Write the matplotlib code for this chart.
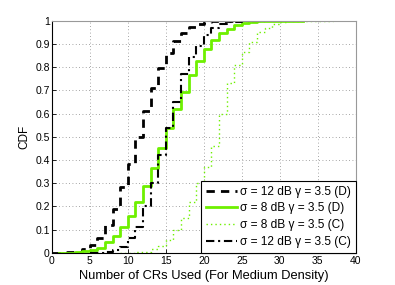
import matplotlib
matplotlib.use("Agg")
import matplotlib.pyplot as plt
import numpy as np

plt.rcParams['font.family'] = ['Liberation Sans', 'DejaVu Sans']

# CDF values on integer steps (value holds on [x, x+1))
x_d12 = [0, 1, 2, 3, 4, 5, 6, 7, 8, 9, 10, 11, 12, 13, 14, 15, 16, 17, 18, 19, 20, 21, 24]
cdf_d12 = [0, 0, 0.002, 0.005, 0.015, 0.035, 0.065, 0.12, 0.19, 0.285, 0.384, 0.5, 0.61,
           0.71, 0.795, 0.862, 0.914, 0.946, 0.972, 0.986, 0.995, 1.0, 1.0]

x_d8 = [1, 2, 3, 4, 5, 6, 7, 8, 9, 10, 11, 12, 13, 14, 15, 16, 17, 18, 19, 20, 21, 22,
        23, 24, 25, 26, 27, 28, 33]
cdf_d8 = [0, 0, 0.003, 0.006, 0.012, 0.022, 0.045, 0.074, 0.112, 0.158, 0.22, 0.287,
          0.364, 0.45, 0.536, 0.618, 0.695, 0.767, 0.826, 0.877, 0.917, 0.946, 0.963,
          0.98, 0.989, 0.995, 0.998, 1.0, 1.0]

x_c8 = [9, 10, 11, 12, 13, 14, 15, 16, 17, 18, 19, 20, 21, 22, 23, 24, 25, 26, 27, 28,
        29, 30, 31, 32, 37]
cdf_c8 = [0, 0, 0.002, 0.005, 0.015, 0.03, 0.055, 0.1, 0.15, 0.22, 0.3, 0.37, 0.46, 0.6,
          0.73, 0.81, 0.865, 0.91, 0.95, 0.97, 0.985, 0.993, 0.998, 1.0, 1.0]

x_c12 = [5, 6, 7, 8, 9, 10, 11, 12, 13, 14, 15, 16, 17, 18, 19, 20, 21, 22, 23, 24, 25, 28]
cdf_c12 = [0, 0, 0.003, 0.01, 0.026, 0.062, 0.112, 0.2, 0.3, 0.42, 0.54, 0.65, 0.77,
           0.845, 0.89, 0.94, 0.97, 0.985, 0.993, 0.997, 1.0, 1.0]

labels = ['σ = 12 dB γ = 3.5 (D)', 'σ = 8 dB γ = 3.5 (D)',
          'σ = 8 dB γ = 3.5 (C)', 'σ = 12 dB γ = 3.5 (C)']

xticks = [0, 5, 10, 15, 20, 25, 30, 35, 40]
yticks = [0, 0.1, 0.2, 0.3, 0.4, 0.5, 0.6, 0.7, 0.8, 0.9, 1]
yticklabels = ['0', '0.1', '0.2', '0.3', '0.4', '0.5', '0.6', '0.7', '0.8', '0.9', '1']

green = '#6ef000'

fig = plt.figure(figsize=(3.95, 2.85), dpi=100)
ax = fig.add_axes([0.131, 0.113, 0.77, 0.814])

ax.step(x_d12, cdf_d12, where='post', color='black', lw=2.0, ls=(0, (3, 2.2)), label=labels[0])
ax.step(x_d8, cdf_d8, where='post', color=green, lw=2.0, ls='-', label=labels[1])
ax.step(x_c8, cdf_c8, where='post', color=green, lw=1.0, ls=(0, (1, 2.2)), label=labels[2])
ax.step(x_c12, cdf_c12, where='post', color='black', lw=1.5, ls=(0, (4, 1.8, 1, 1.8)), label=labels[3])

ax.set_xlim(0, 40)
ax.set_ylim(0, 1)
ax.set_xticks(xticks)
ax.set_yticks(yticks)
ax.set_yticklabels(yticklabels)
ax.tick_params(direction='in', labelsize=7.5, length=3, width=0.6, pad=2,
               top=False, right=False)
ax.tick_params(axis='y', pad=1.5)
ax.grid(True, ls=(0, (1, 3)), color='#888888', lw=0.6)

for s in ['left', 'bottom']:
    ax.spines[s].set_color('black')
    ax.spines[s].set_linewidth(0.8)
for s in ['top', 'right']:
    ax.spines[s].set_color('#999999')
    ax.spines[s].set_linewidth(0.8)

ax.set_xlabel('Number of CRs Used (For Medium Density)', fontsize=9.3, labelpad=3.5)
ax.set_ylabel('CDF', fontsize=8.5, labelpad=3.5)

leg = ax.legend(loc='lower right', fontsize=8.6, frameon=True, fancybox=False,
                edgecolor='black', framealpha=1, borderpad=0.4, labelspacing=0.4,
                handlelength=2.6, handletextpad=0.25, borderaxespad=0.0)
leg.get_frame().set_linewidth(0.8)

fig.savefig('out.png', dpi=100)
